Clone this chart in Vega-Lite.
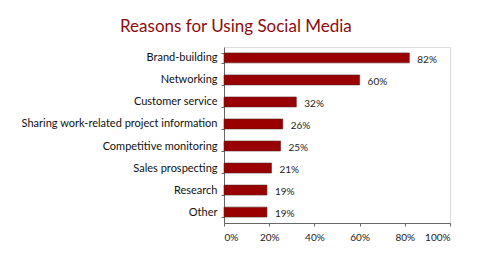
{
  "$schema": "https://vega.github.io/schema/vega-lite/v6.json",
  "width": 226,
  "height": 176,
  "autosize": {"type": "none"},
  "padding": {"left": 224, "top": 47, "right": 50, "bottom": 35},
  "background": "white",
  "title": {
    "text": "Reasons for Using Social Media",
    "anchor": "start",
    "frame": "group",
    "dx": -104,
    "offset": 5,
    "font": "Lato",
    "fontSize": 17,
    "fontWeight": "normal",
    "color": "#8e0b0b"
  },
  "data": {
    "values": [
      {"reason": "Brand-building", "pct": 82},
      {"reason": "Networking", "pct": 60},
      {"reason": "Customer service", "pct": 32},
      {"reason": "Sharing work-related project information", "pct": 26},
      {"reason": "Competitive monitoring", "pct": 25},
      {"reason": "Sales prospecting", "pct": 21},
      {"reason": "Research", "pct": 19},
      {"reason": "Other", "pct": 19}
    ]
  },
  "transform": [{"calculate": "datum.pct + '%'", "as": "label"}],
  "encoding": {
    "y": {
      "field": "reason",
      "type": "nominal",
      "sort": null,
      "title": null,
      "scale": {"paddingInner": 0.55, "paddingOuter": 0.27},
      "axis": {
        "labelFont": "Lato",
        "labelFontSize": 11,
        "labelColor": "#111",
        "labelPadding": 4,
        "labelLimit": 300,
        "tickSize": 3,
        "tickColor": "#666",
        "domainColor": "#666",
        "tickBand": "extent"
      }
    }
  },
  "layer": [
    {
      "mark": {"type": "bar", "color": "#990000", "stroke": "#5a2020", "strokeWidth": 0.6},
      "encoding": {
        "x": {
          "field": "pct",
          "type": "quantitative",
          "title": null,
          "scale": {"domain": [0, 100]},
          "axis": {
            "values": [0, 20, 40, 60, 80, 100],
            "labelExpr": "datum.value + '%'",
            "grid": false,
            "labelFont": "Lato",
            "labelFontSize": 10,
            "labelColor": "#222",
            "tickSize": 3,
            "tickColor": "#666",
            "domainColor": "#666",
            "labelPadding": 6
          }
        }
      }
    },
    {
      "mark": {"type": "text", "align": "left", "dx": 8, "dy": 2, "font": "Lato", "fontSize": 10, "color": "#222"},
      "encoding": {
        "x": {"field": "pct", "type": "quantitative"},
        "text": {"field": "label", "type": "nominal"}
      }
    }
  ]
}
